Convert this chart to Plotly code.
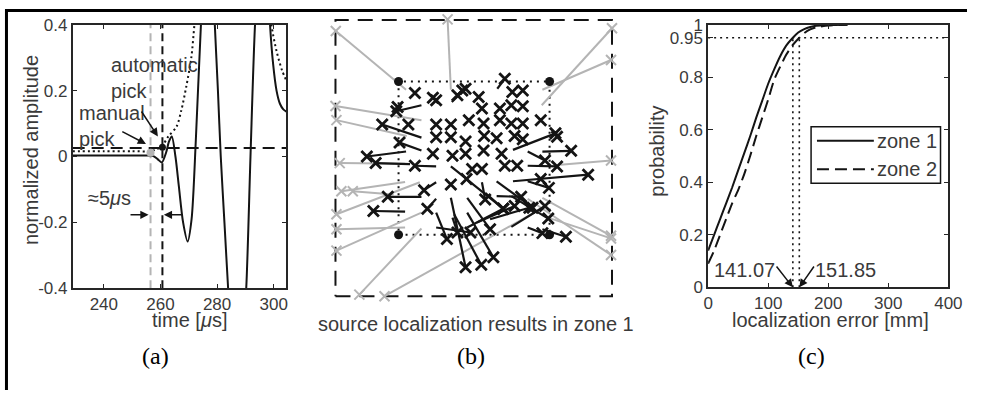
import plotly.graph_objects as go

# ---------------- Panel (a): waveform and picks ----------------
time_range = [229, 304.5]
amp_range = [-0.4, 0.4]
time_ticks = [240, 260, 280, 300]
amp_ticks = [-0.4, -0.2, 0, 0.2, 0.4]
amp_ticklabels = ["-0.4", "-0.2", "0", "0.2", "0.4"]

t_signal = [229, 240, 250, 255, 257.5, 259, 260.5, 262, 263, 264, 265.3, 266.5, 268,
            269.6, 271, 272.5, 274.3, 275.8, 277.2, 278.4, 279.2, 280.3, 281.3, 282.6,
            283.9, 285.5, 287.2, 288.9, 290.3, 291.8, 293.4, 295, 296.6, 297.9, 298.7,
            299.8, 301, 302.2, 303.4, 304.5]
amp_signal = [0.003, 0.003, 0.003, 0.003, 0.001, -0.008, -0.018, 0.012, 0.045, 0.061, 0.0,
              -0.09, -0.2, -0.258, -0.19, 0.05, 0.4, 0.62, 0.68, 0.58, 0.4, 0.2, 0.0, -0.2,
              -0.4, -0.62, -0.68, -0.58, -0.4, 0.0, 0.4, 0.62, 0.68, 0.55, 0.4, 0.28, 0.2,
              0.16, 0.143, 0.136]

t_cf = [229, 240, 250, 256.4, 258.5, 260.5, 262.8, 265.7, 267.4, 269.1, 270.9, 272.0,
        274, 280, 290, 296, 299.2, 301, 303, 304.5]
cf_values = [0.016, 0.016, 0.016, 0.016, 0.022, 0.031, 0.061, 0.091, 0.141, 0.211, 0.30,
             0.40, 0.6, 1.2, 1.2, 0.7, 0.40, 0.32, 0.26, 0.23]

threshold = 0.026
manual_pick = 256.5
manual_amp = 0.011
auto_pick = 260.7
auto_amp = 0.028

# ---------------- Panel (b): localization results ----------------
zone_x = [0, 846]
zone_y = [0, 836]
sensor_x = [193, 655, 655, 193]
sensor_y = [186, 186, 650, 650]

gray_true_x = [216, 353, 263, 218, 633, 631, 688, 633, 588, 650, 630, 213, 213, 178, 258, 213, 263, 263]
gray_true_y = [625, 625, 533, 485, 625, 578, 398, 298, 295, 238, 265, 401, 346, 308, 345, 208, 253, 205]
gray_est_x = [1, 343, 0, 3, 843, 846, 843, 843, 843, 843, 150, 13, 18, 53, 3, 3, 3, 73]
gray_est_y = [803, 838, 576, 533, 715, 811, 411, 183, 125, 175, 0, 403, 318, 318, 248, 203, 138, 5]

black_true_x = [263, 263, 263, 216, 308, 228, 543, 633, 588, 588, 353, 543, 588, 308, 308, 263,
                213, 495, 356, 448, 403, 493, 538, 473, 538, 493, 403, 308, 308, 353, 363, 403,
                403, 433, 588, 633, 358, 458]
black_true_y = [578, 480, 441, 438, 393, 400, 443, 438, 438, 395, 393, 348, 348, 345, 295, 301,
                256, 628, 588, 345, 353, 348, 303, 233, 210, 303, 298, 253, 208, 298, 248, 253,
                208, 223, 208, 203, 238, 313]
black_est_x = [186, 143, 196, 96, 243, 123, 673, 721, 641, 678, 401, 773, 653, 271, 281, 160,
               116, 518, 398, 458, 513, 603, 651, 593, 641, 568, 473, 341, 413, 398, 446, 483,
               513, 548, 633, 705, 373, 513]
black_est_y = [560, 520, 465, 423, 395, 403, 493, 440, 411, 393, 355, 368, 328, 321, 265, 301,
               258, 658, 628, 293, 265, 268, 235, 268, 273, 301, 203, 173, 193, 88, 95, 118,
               265, 273, 191, 180, 193, 265]

single_x = [243, 298, 308, 373, 388, 438, 541, 573, 190, 448, 503, 538, 573,
            223, 308, 353, 408, 453, 503, 538, 573, 628,
            308, 353, 398, 455, 493, 548, 573, 678,
            298, 358, 398, 453, 508, 418, 448, 518, 556, 353, 628]
single_y = [615, 601, 593, 608, 623, 603, 618, 623, 573, 568, 568, 578, 575,
            520, 520, 520, 533, 523, 533, 523, 523, 533,
            481, 481, 468, 485, 478, 485, 475, 483,
            431, 425, 431, 441, 431, 385, 385, 395, 395, 338, 355]

# ---------------- Panel (c): CDF of localization error ----------------
err_range = [0, 400]
err_ticks = [0, 100, 200, 300, 400]
prob_ticks = [0, 0.2, 0.4, 0.6, 0.8, 0.95, 1]
prob_ticklabels = ["0", "0.2", "0.4", "0.6", "0.8", "0.95", "1"]

err_zone1 = [0, 10, 20, 30, 40, 50, 60, 70, 80, 90, 100, 110, 120, 130, 141.07, 150, 160,
             170, 180, 200, 232]
cdf_zone1 = [0.14, 0.20, 0.26, 0.32, 0.38, 0.445, 0.51, 0.575, 0.645, 0.71, 0.775, 0.83,
             0.88, 0.92, 0.95, 0.97, 0.983, 0.991, 0.996, 0.999, 1.0]
err_zone2 = [0, 10, 20, 30, 40, 50, 60, 70, 80, 90, 100, 110, 120, 130, 140, 151.85, 160,
             170, 180, 200, 232]
cdf_zone2 = [0.09, 0.14, 0.20, 0.26, 0.32, 0.37, 0.43, 0.50, 0.575, 0.645, 0.715, 0.79,
             0.84, 0.885, 0.92, 0.95, 0.968, 0.982, 0.99, 0.997, 1.0]
p95 = 0.95
err95_zone1 = 141.07
err95_zone2 = 151.85

# ---------------- styling ----------------
W, H = 981, 400
# the photograph of the page maps page row y to 8.2 + 0.961*y; layout rows below
# are given in photo pixels and converted back to page rows
PHOTO_Y0, PHOTO_SY = 8.2, 0.961
SANS = "Liberation Sans, Arial, Helvetica, sans-serif"
SERIF = "Liberation Serif, Times New Roman, serif"
TXT = "#3a3a3a"
AX = "#262626"
BLK = "#141414"
GRY = "#b4b4b4"
FS = 17      # tick labels
FT = 20      # titles / annotations
FP = 24      # panel letters


def px_x(p):
    return p / W


def px_y(p):
    page_row = (p - PHOTO_Y0) / PHOTO_SY
    return 1 - page_row / H


fig = go.Figure()

# panel (a)
fig.add_trace(go.Scatter(x=time_range, y=[threshold, threshold], mode="lines",
                         line=dict(color=BLK, width=2, dash="12px,7px"), xaxis="x", yaxis="y"))
fig.add_trace(go.Scatter(x=[manual_pick, manual_pick], y=amp_range, mode="lines",
                         line=dict(color=GRY, width=2, dash="8px,5px"), xaxis="x", yaxis="y"))
fig.add_trace(go.Scatter(x=[auto_pick, auto_pick], y=amp_range, mode="lines",
                         line=dict(color=BLK, width=2, dash="8px,5px"), xaxis="x", yaxis="y"))
fig.add_trace(go.Scatter(x=t_cf, y=cf_values, mode="lines",
                         line=dict(color=BLK, width=2, dash="2px,3px", shape="spline", smoothing=0.8),
                         xaxis="x", yaxis="y"))
fig.add_trace(go.Scatter(x=t_signal, y=amp_signal, mode="lines",
                         line=dict(color=BLK, width=2, shape="spline", smoothing=0.8),
                         xaxis="x", yaxis="y"))
fig.add_trace(go.Scatter(x=[manual_pick], y=[manual_amp], mode="markers",
                         marker=dict(color=GRY, size=8), xaxis="x", yaxis="y"))
fig.add_trace(go.Scatter(x=[auto_pick], y=[auto_amp], mode="markers",
                         marker=dict(color=BLK, size=7), xaxis="x", yaxis="y"))

# panel (b)
fig.add_trace(go.Scatter(x=[zone_x[0], zone_x[1], zone_x[1], zone_x[0], zone_x[0]],
                         y=[zone_y[0], zone_y[0], zone_y[1], zone_y[1], zone_y[0]], mode="lines",
                         line=dict(color=BLK, width=2, dash="15px,9px"), xaxis="x2", yaxis="y2"))
fig.add_trace(go.Scatter(x=sensor_x + [sensor_x[0]], y=sensor_y + [sensor_y[0]], mode="lines",
                         line=dict(color=BLK, width=2, dash="2px,5px"), xaxis="x2", yaxis="y2"))

gx, gy = [], []
for a, b, c, d in zip(gray_true_x, gray_true_y, gray_est_x, gray_est_y):
    gx += [a, c, None]
    gy += [b, d, None]
fig.add_trace(go.Scatter(x=gx, y=gy, mode="lines", line=dict(color=GRY, width=2),
                         xaxis="x2", yaxis="y2"))
fig.add_trace(go.Scatter(x=gray_est_x, y=gray_est_y, mode="markers",
                         marker=dict(symbol="x-thin", size=10, line=dict(color=GRY, width=2)),
                         xaxis="x2", yaxis="y2"))
bx, by = [], []
for a, b, c, d in zip(black_true_x, black_true_y, black_est_x, black_est_y):
    bx += [a, c, None]
    by += [b, d, None]
fig.add_trace(go.Scatter(x=bx, y=by, mode="lines", line=dict(color=BLK, width=2.2),
                         xaxis="x2", yaxis="y2"))
fig.add_trace(go.Scatter(x=black_est_x + single_x, y=black_est_y + single_y, mode="markers",
                         marker=dict(symbol="x-thin", size=11, line=dict(color=BLK, width=2.8)),
                         xaxis="x2", yaxis="y2"))
fig.add_trace(go.Scatter(x=sensor_x, y=sensor_y, mode="markers",
                         marker=dict(color=BLK, size=9), xaxis="x2", yaxis="y2"))

# panel (c)
fig.add_trace(go.Scatter(x=err_range, y=[p95, p95], mode="lines",
                         line=dict(color=BLK, width=1.6, dash="2px,4px"), xaxis="x3", yaxis="y3"))
fig.add_trace(go.Scatter(x=[err95_zone1, err95_zone1], y=[0, p95], mode="lines",
                         line=dict(color=BLK, width=1.6, dash="2px,4px"), xaxis="x3", yaxis="y3"))
fig.add_trace(go.Scatter(x=[err95_zone2, err95_zone2], y=[0, p95], mode="lines",
                         line=dict(color=BLK, width=1.6, dash="2px,4px"), xaxis="x3", yaxis="y3"))
fig.add_trace(go.Scatter(x=err_zone1, y=cdf_zone1, mode="lines",
                         line=dict(color=BLK, width=2, shape="spline", smoothing=0.6),
                         xaxis="x3", yaxis="y3"))
fig.add_trace(go.Scatter(x=err_zone2, y=cdf_zone2, mode="lines",
                         line=dict(color=BLK, width=2, dash="12px,6px", shape="spline", smoothing=0.6),
                         xaxis="x3", yaxis="y3"))

axis_common = dict(showline=True, linecolor=AX, linewidth=1.5, mirror="allticks", ticks="inside",
                   ticklen=5, tickwidth=1.3, tickcolor=AX, showgrid=False, zeroline=False,
                   tickfont=dict(family=SANS, size=FS, color=TXT), fixedrange=True)

fig.update_layout(
    width=W, height=H, margin=dict(l=0, r=0, t=0, b=0),
    paper_bgcolor="white", plot_bgcolor="white", showlegend=False,
    xaxis=dict(domain=[px_x(69), px_x(287)], range=time_range, tickvals=time_ticks,
               anchor="y", **axis_common),
    yaxis=dict(domain=[px_y(290), px_y(24)], range=amp_range, tickvals=amp_ticks,
               ticktext=amp_ticklabels, anchor="x", **axis_common),
    xaxis2=dict(domain=[px_x(327), px_x(629)], range=[-30, 876], visible=False, anchor="y2",
                fixedrange=True),
    yaxis2=dict(domain=[px_y(308), px_y(9)], range=[-30, 867], visible=False, anchor="x2",
                fixedrange=True),
    xaxis3=dict(domain=[px_x(717), px_x(962)], range=err_range, tickvals=err_ticks,
                anchor="y3", **axis_common),
    yaxis3=dict(domain=[px_y(289), px_y(24)], range=[0, 1], tickvals=prob_ticks,
                ticktext=prob_ticklabels, anchor="x3", **axis_common),
)

ann = []


def label(text, x, y, size=FT, color=TXT, family=SANS, angle=0, xanchor="center", align="center"):
    ann.append(dict(text=text, x=x, y=y, xref="paper", yref="paper", showarrow=False,
                    textangle=angle, xanchor=xanchor, yanchor="middle", align=align,
                    font=dict(family=family, size=size, color=color)))


label("normalized amplitude", px_x(26), px_y(150), angle=-90)
label("time [<i>μ</i>s]", px_x(188), px_y(322))
label("(a)", px_x(153), px_y(358), size=FP, color="black", family=SERIF)
label("source localization results in zone 1", px_x(480), px_y(326))
label("(b)", px_x(475), px_y(358), size=FP, color="black", family=SERIF)
label("probability", px_x(664), px_y(152), angle=-90)
label("localization error [mm]", px_x(842), px_y(322))
label("(c)", px_x(822), px_y(358), size=FP, color="black", family=SERIF)

# panel (a) text annotations and arrows
ann.append(dict(text="automatic<br>pick", x=242.0, y=0.238, xref="x", yref="y", showarrow=False,
                xanchor="left", align="left", font=dict(family=SANS, size=FT, color=TXT)))
ann.append(dict(text="manual<br>pick", x=230.6, y=0.093, xref="x", yref="y", showarrow=False,
                xanchor="left", align="left", font=dict(family=SANS, size=FT, color=TXT)))
ann.append(dict(text="≈5<i>μ</i>s", x=242.1, y=-0.126, xref="x", yref="y", showarrow=False,
                font=dict(family=SANS, size=FT, color=TXT)))


def arrow(x, y, ax, ay, xr, yr):
    ann.append(dict(text="", x=x, y=y, ax=ax, ay=ay, xref=xr, yref=yr, axref=xr, ayref=yr,
                    showarrow=True, arrowhead=2, arrowsize=1.1, arrowwidth=1.5, arrowcolor=BLK))


arrow(259.1, 0.061, 252.96, 0.141, "x", "y")
arrow(254.9, 0.038, 246.0, 0.078, "x", "y")
arrow(255.8, -0.177, 248.9, -0.177, "x", "y")
arrow(261.2, -0.177, 268.0, -0.177, "x", "y")

# panel (c) annotations
ann.append(dict(text="141.07", x=60, y=0.065, xref="x3", yref="y3", showarrow=False,
                font=dict(family=SANS, size=FT, color=TXT)))
ann.append(dict(text="151.85", x=228, y=0.065, xref="x3", yref="y3", showarrow=False,
                font=dict(family=SANS, size=FT, color=TXT)))
arrow(err95_zone1, 0.0, 112, 0.085, "x3", "y3")
arrow(err95_zone2, 0.0, 178, 0.085, "x3", "y3")

# custom legend for panel (c) and figure frame
shapes = [
    dict(type="rect", xref="paper", yref="paper", x0=px_x(822), x1=px_x(954), y0=px_y(184),
         y1=px_y(127), line=dict(color=BLK, width=1.5), fillcolor="white", layer="above"),
    dict(type="line", xref="paper", yref="paper", x0=px_x(828), x1=px_x(886), y0=px_y(141),
         y1=px_y(141), line=dict(color=BLK, width=2), layer="above"),
    dict(type="line", xref="paper", yref="paper", x0=px_x(828), x1=px_x(886), y0=px_y(170),
         y1=px_y(170), line=dict(color=BLK, width=2, dash="12px,6px"), layer="above"),
    dict(type="line", xref="paper", yref="paper", x0=0, x1=1, y0=1 - 1.5 / H, y1=1 - 1.5 / H,
         line=dict(color="black", width=3)),
    dict(type="line", xref="paper", yref="paper", x0=px_x(1.5), x1=px_x(1.5), y0=0, y1=1,
         line=dict(color="black", width=3)),
]
label("zone 1", px_x(887), px_y(141), xanchor="left")
label("zone 2", px_x(887), px_y(170), xanchor="left")

fig.update_layout(annotations=ann, shapes=shapes)

page_fix = (
    "var s=document.documentElement.style;s.margin='0';s.padding='0';s.overflow='hidden';"
    "var b=document.body.style;b.margin='0';b.padding='0';b.overflow='hidden';"
)
fig.write_html("out.html", config={"displayModeBar": False}, post_script=page_fix)
